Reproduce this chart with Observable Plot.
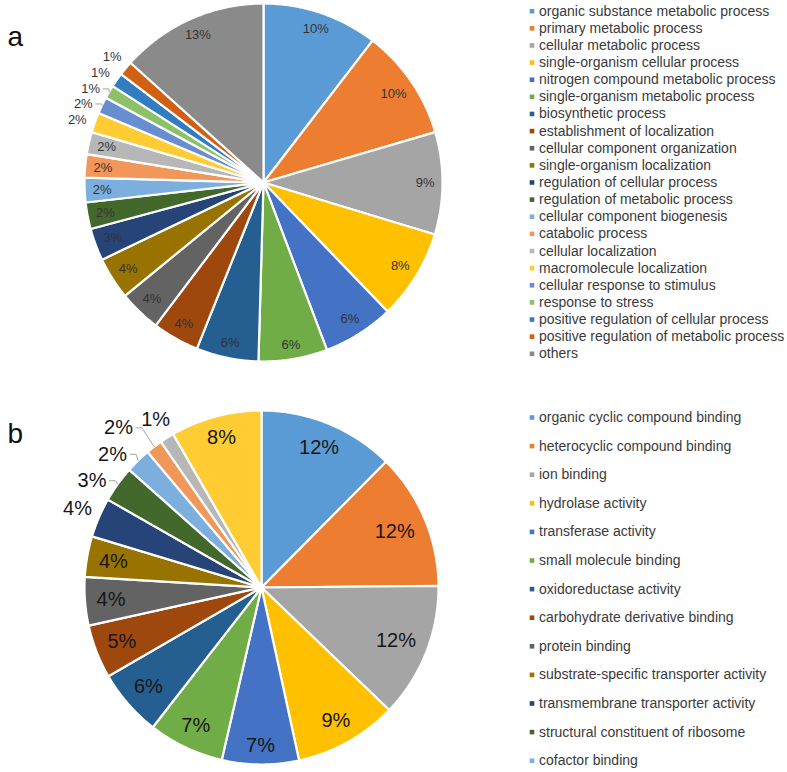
<!DOCTYPE html>
<html>
<head>
<meta charset="utf-8">
<script src="https://cdn.jsdelivr.net/npm/d3@7"></script>
<script src="https://cdn.jsdelivr.net/npm/@observablehq/plot@0.6"></script>
<style>
  html, body { margin: 0; padding: 0; background: #fff; overflow: hidden; }
  #chart svg { display: block; }
</style>
</head>
<body>
<div id="chart"></div>
<script>
// ---------- DATA ----------
const bpCategories = [
  "organic substance metabolic process",
  "primary metabolic process",
  "cellular metabolic process",
  "single-organism cellular process",
  "nitrogen compound metabolic process",
  "single-organism metabolic process",
  "biosynthetic process",
  "establishment of localization",
  "cellular component organization",
  "single-organism localization",
  "regulation of cellular process",
  "regulation of metabolic process",
  "cellular component biogenesis",
  "catabolic process",
  "cellular localization",
  "macromolecule localization",
  "cellular response to stimulus",
  "response to stress",
  "positive regulation of cellular process",
  "positive regulation of metabolic process",
  "others"
];
const bpValues = [10.4, 10.0, 9.2, 8.1, 6.4, 6.2, 5.6, 4.2, 3.8, 3.8, 2.9, 2.4, 2.2, 2.1, 2.0, 1.8, 1.5, 1.2, 1.3, 1.3, 13.3];

// last three categories of panel b are cut off in the source legend (names not visible)
const mfCategories = [
  "organic cyclic compound binding",
  "heterocyclic compound binding",
  "ion binding",
  "hydrolase activity",
  "transferase activity",
  "small molecule binding",
  "oxidoreductase activity",
  "carbohydrate derivative binding",
  "protein binding",
  "substrate-specific transporter activity",
  "transmembrane transporter activity",
  "structural constituent of ribosome",
  "cofactor binding",
  "",
  "",
  ""
];
const mfValues = [12.4, 12.4, 12.3, 9.4, 7.0, 6.9, 6.1, 4.9, 4.4, 3.7, 3.6, 3.3, 2.3, 1.5, 1.3, 8.3];

const palette = [
  "#5B9BD5", "#ED7D31", "#A5A5A5", "#FFC000", "#4472C4", "#70AD47",
  "#255E91", "#9E480E", "#636363", "#997300", "#264478", "#43682B",
  "#7CAFDD", "#F1975A", "#B7B7B7", "#FFCD33", "#698ED0", "#8CC168",
  "#327DC2", "#D26012", "#8A8A8A"
];
const panelLetters = ["a", "b"];

// ---------- LAYOUT ----------
const W = 787, H = 772;
const FONT = "'Liberation Sans', Arial, Helvetica, sans-serif";
const panels = [
  { cats: bpCategories, vals: bpValues, cx: 263, cy: 182, R: 179, font: 13, labelColor: "#333333",
    insideMin: 1.9, inPad: 8, outGap: 7, boxH: 0.5, boxW: 0, legendY: 10.7, legendStep: 17.13, letterY: 37 },
  { cats: mfCategories, vals: mfValues, cx: 261, cy: 587, R: 177, font: 20, labelColor: "#161616",
    insideMin: 3.65, inPad: 11, outGap: 7, boxH: 0.6, boxW: 3, legendY: 417, legendStep: 28.6, letterY: 434 }
];
const legendSwatchX = 531.5, legendTextX = 538.5;

const charW = c => /[0-9]/.test(c) ? 0.556 : (c === "%" ? 0.889 : 0.5);
const textWidth = (s, fs) => [...s].reduce((a, c) => a + charW(c), 0) * fs;

const slicePts = [], labels = [], leaders = [], legend = [], letters = [];

panels.forEach((p, pi) => {
  const data = p.vals.map((v, i) => ({ name: p.cats[i], value: v, color: palette[i] }));
  const total = d3.sum(p.vals);
  const arcs = d3.pie().sort(null).value(d => d.value)(data);
  const pt = (a, r) => ({ x: p.cx + r * Math.sin(a), y: p.cy - r * Math.cos(a) });
  const outside = [];

  arcs.forEach((a, i) => {
    const key = pi + "-" + i;
    // slice polygon
    const n = Math.max(2, Math.ceil((a.endAngle - a.startAngle) / (Math.PI / 360)));
    slicePts.push({ key, color: a.data.color, x: p.cx, y: p.cy });
    for (let k = 0; k <= n; k++) {
      const t = a.startAngle + (a.endAngle - a.startAngle) * k / n;
      const q = pt(t, p.R);
      slicePts.push({ key, color: a.data.color, x: q.x, y: q.y });
    }
    slicePts.push({ key, color: a.data.color, x: p.cx, y: p.cy });

    // data label
    const pct = a.data.value / total * 100;
    const text = Math.round(pct) + "%";
    const mid = (a.startAngle + a.endAngle) / 2;
    const hw = textWidth(text, p.font) / 2, hh = p.font * 0.38;
    const ext = t => hw * Math.abs(Math.sin(t)) + hh * Math.abs(Math.cos(t));
    if (pct >= p.insideMin) {
      const q = pt(mid, p.R - p.inPad - ext(mid));
      labels.push({ panel: pi, x: q.x, y: q.y, text });
    } else {
      outside.push({ key, mid, text, hw, hh, ext });
    }
    // legend entry (only named, visible entries)
    const ly = p.legendY + p.legendStep * i;
    if (a.data.name && ly < H) legend.push({ x: legendSwatchX, y: ly, name: a.data.name, color: a.data.color });
  });

  // outside labels: place from the top going counter-clockwise, nearest free spot
  const placed = [];
  const bh = p.font * p.boxH, padB = 2;
  outside.slice().reverse().forEach(L => {
    const ideal = pt(L.mid, p.R + p.outGap + L.ext(L.mid));
    const bw = L.hw + p.boxW;
    let best = null, bestD = Infinity;
    for (let dA = -30; dA <= 30; dA += 0.5) {
      const t = L.mid + dA * Math.PI / 180;
      for (let dr = 0; dr <= 70; dr += 1) {
        const q = pt(t, p.R + p.outGap + L.ext(t) + dr);
        const box = { x0: q.x - bw, x1: q.x + bw, y0: q.y - bh, y1: q.y + bh };
        const hit = placed.some(b => box.x0 < b.x1 + padB && b.x0 < box.x1 + padB && box.y0 < b.y1 + padB && b.y0 < box.y1 + padB);
        if (hit) continue;
        const d = Math.hypot(q.x - ideal.x, q.y - ideal.y);
        if (d < bestD) { bestD = d; best = { q, box }; }
        break;
      }
    }
    placed.push(best.box);
    const q = best.q;
    labels.push({ panel: pi, x: q.x, y: q.y, text: L.text });
    if (bestD > 4) {
      const e = pt(L.mid, p.R);
      const sgn = q.x < e.x ? 1 : -1;
      const sx = q.x + sgn * (L.hw + 3);
      leaders.push({ key: L.key, x: sx, y: q.y });
      leaders.push({ key: L.key, x: sx + sgn * 6, y: q.y });
      leaders.push({ key: L.key, x: e.x, y: e.y });
    }
  });
  letters.push({ x: 7, y: p.letterY, text: panelLetters[pi] });
});

const chart = Plot.plot({
  width: W, height: H,
  margin: 0, marginTop: 0, marginRight: 0, marginBottom: 0, marginLeft: 0,
  x: { domain: [0, W], range: [0, W], axis: null },
  y: { domain: [0, H], range: [0, H], axis: null },
  color: { type: "identity" },
  style: { fontFamily: FONT, background: "#fff" },
  marks: [
    Plot.line(slicePts, { x: "x", y: "y", z: "key", fill: "color", stroke: "#fff", strokeWidth: 2.2, strokeLinejoin: "round", curve: "linear" }),
    Plot.line(leaders, { x: "x", y: "y", z: "key", stroke: "#a6a6a6", strokeWidth: 1, curve: "linear" }),
    Plot.text(labels.filter(d => d.panel === 0), { x: "x", y: "y", text: "text", fontSize: panels[0].font, fill: panels[0].labelColor, fontFamily: FONT }),
    Plot.text(labels.filter(d => d.panel === 1), { x: "x", y: "y", text: "text", fontSize: panels[1].font, fill: panels[1].labelColor, fontFamily: FONT }),
    Plot.dot(legend, { x: "x", y: "y", symbol: "square", r: 2.6, fill: "color" }),
    Plot.text(legend, { x: d => legendTextX, y: "y", text: "name", textAnchor: "start", fontSize: 14, fill: "#3a3a3a", fontFamily: FONT }),
    Plot.text(letters, { x: "x", y: "y", text: "text", textAnchor: "start", fontSize: 28, fill: "#111", fontFamily: FONT })
  ]
});
document.getElementById("chart").appendChild(chart);
</script>
</body>
</html>
